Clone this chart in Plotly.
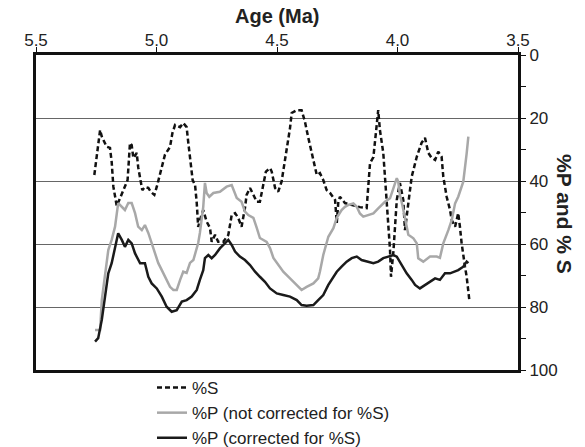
import plotly.graph_objects as go

# ---- data (age in Ma, percentage) ----
s_age = [5.258, 5.234, 5.227, 5.221, 5.207, 5.193, 5.186, 5.179, 5.165, 5.151,
         5.131, 5.120, 5.110, 5.103, 5.096, 5.082, 5.076, 5.068, 5.059, 5.048,
         5.034, 5.023, 5.009, 4.999, 4.985, 4.965, 4.944, 4.934, 4.923, 4.902,
         4.889, 4.875, 4.868, 4.857, 4.850, 4.840, 4.833, 4.827, 4.820, 4.806,
         4.792, 4.778, 4.771, 4.757, 4.744, 4.723, 4.702, 4.688, 4.674, 4.661,
         4.647, 4.633, 4.626, 4.612, 4.598, 4.584, 4.571, 4.557, 4.546, 4.529,
         4.522, 4.508, 4.495, 4.481, 4.467, 4.446, 4.439, 4.418, 4.398, 4.384,
         4.370, 4.349, 4.335, 4.322, 4.308, 4.294, 4.280, 4.259, 4.252, 4.246,
         4.239, 4.218, 4.189, 4.156, 4.128, 4.121, 4.114, 4.100, 4.093, 4.086,
         4.080, 4.073, 4.059, 4.052, 4.045, 4.038, 4.031, 4.027, 4.017, 4.003,
         3.990, 3.976, 3.969, 3.955, 3.941, 3.920, 3.900, 3.886, 3.872, 3.858,
         3.844, 3.831, 3.817, 3.810, 3.796, 3.782, 3.775, 3.761, 3.748, 3.741,
         3.734, 3.720, 3.713, 3.702]
s_val = [38.1, 23.8, 25.9, 27.0, 29.1, 29.5, 33.9, 41.8, 47.9, 45.4,
         41.9, 39.7, 27.9, 28.6, 32.7, 31.1, 35.6, 39.7, 42.9, 41.9,
         42.2, 43.5, 44.4, 41.9, 37.5, 31.7, 29.2, 24.8, 22.2, 22.9,
         21.6, 22.9, 27.9, 35.6, 39.7, 41.3, 47.0, 54.6, 52.4, 49.2,
         52.9, 54.9, 59.3, 57.1, 59.3, 59.3, 57.1, 50.8, 50.2, 51.7,
         54.5, 48.6, 44.4, 42.2, 44.4, 46.6, 46.6, 41.3, 37.0, 35.9,
         37.0, 42.2, 43.4, 40.2, 33.9, 23.2, 18.4, 17.5, 17.5, 21.2,
         26.3, 33.9, 38.1, 37.5, 39.7, 42.9, 43.8, 46.0, 53.3, 47.0,
         45.0, 47.0, 47.6, 48.3, 48.6, 40.6, 34.3, 32.4, 27.0, 20.6,
         17.5, 23.8, 31.1, 38.7, 46.0, 55.6, 61.9, 70.4, 62.4, 46.0,
         40.6, 46.0, 55.6, 47.0, 38.6, 32.3, 27.9, 26.3, 31.1, 32.7,
         33.3, 30.7, 32.3, 38.6, 45.0, 49.2, 52.4, 54.5, 50.2, 54.5,
         59.7, 67.2, 70.4, 77.8]

pu_age = [5.255, 5.234, 5.227, 5.214, 5.200, 5.186, 5.172, 5.159, 5.144, 5.131,
          5.117, 5.103, 5.089, 5.076, 5.061, 5.048, 5.034, 5.020, 5.006, 4.993,
          4.978, 4.958, 4.944, 4.930, 4.916, 4.902, 4.889, 4.875, 4.861, 4.847,
          4.827, 4.820, 4.806, 4.799, 4.792, 4.781, 4.764, 4.737, 4.709, 4.688,
          4.667, 4.647, 4.633, 4.619, 4.598, 4.584, 4.571, 4.543, 4.529, 4.515,
          4.495, 4.474, 4.446, 4.418, 4.398, 4.377, 4.349, 4.329, 4.322, 4.308,
          4.294, 4.287, 4.266, 4.252, 4.232, 4.218, 4.204, 4.183, 4.169, 4.156,
          4.142, 4.121, 4.100, 4.080, 4.066, 4.052, 4.031, 4.017, 4.003, 3.997,
          3.990, 3.980, 3.969, 3.955, 3.934, 3.920, 3.914, 3.893, 3.865, 3.837,
          3.824, 3.810, 3.789, 3.775, 3.761, 3.748, 3.727, 3.720, 3.713, 3.706]
pu_val = [87.3, 87.3, 77.8, 70.4, 61.9, 58.7, 54.5, 47.0, 48.2, 49.2,
          47.0, 47.0, 50.2, 54.5, 55.6, 54.0, 56.5, 59.7, 62.9, 66.0,
          68.3, 71.4, 73.6, 74.6, 74.6, 71.4, 68.8, 69.2, 66.0, 65.1,
          59.7, 56.5, 48.2, 40.6, 43.8, 45.0, 43.8, 43.4, 41.8, 41.3,
          45.4, 46.6, 49.7, 50.8, 51.7, 54.9, 58.1, 59.3, 61.3, 64.4,
          66.7, 68.8, 70.9, 73.0, 74.6, 73.6, 72.5, 70.9, 68.8, 63.5,
          59.3, 57.7, 55.0, 51.7, 49.2, 48.2, 47.6, 47.1, 48.2, 50.3,
          51.3, 50.8, 50.3, 48.7, 47.6, 46.6, 45.5, 42.3, 39.1, 40.2,
          44.4, 47.6, 51.8, 57.1, 58.2, 59.8, 64.5, 65.6, 64.0, 64.0,
          64.4, 59.8, 55.6, 52.4, 47.1, 45.0, 40.2, 36.5, 31.2, 25.9]

pc_age = [5.255, 5.242, 5.227, 5.214, 5.200, 5.186, 5.172, 5.159, 5.144, 5.131,
          5.117, 5.103, 5.089, 5.068, 5.048, 5.034, 5.020, 4.999, 4.978, 4.958,
          4.937, 4.916, 4.895, 4.875, 4.854, 4.833, 4.820, 4.806, 4.799, 4.785,
          4.771, 4.757, 4.737, 4.716, 4.702, 4.688, 4.674, 4.654, 4.633, 4.612,
          4.591, 4.571, 4.550, 4.529, 4.501, 4.474, 4.446, 4.418, 4.398, 4.377,
          4.349, 4.329, 4.308, 4.287, 4.273, 4.252, 4.232, 4.211, 4.190, 4.169,
          4.149, 4.121, 4.100, 4.080, 4.059, 4.038, 4.017, 4.003, 3.990, 3.976,
          3.962, 3.941, 3.927, 3.907, 3.886, 3.865, 3.844, 3.824, 3.803, 3.782,
          3.761, 3.748, 3.727, 3.713, 3.706]
pc_val = [91.0, 89.9, 84.1, 76.7, 69.3, 66.1, 60.9, 56.6, 58.7, 60.9,
          58.7, 59.8, 63.0, 66.1, 66.1, 70.4, 72.5, 74.1, 76.7, 79.9,
          81.5, 81.0, 78.3, 77.8, 76.7, 74.6, 71.4, 68.3, 64.5, 63.5,
          64.5, 63.5, 61.4, 59.8, 58.7, 60.3, 62.4, 64.0, 65.1, 66.7,
          68.8, 70.4, 72.0, 74.1, 75.7, 76.2, 76.7, 77.8, 79.4, 79.6,
          79.4, 77.8, 76.2, 73.0, 71.4, 68.8, 67.2, 65.6, 64.5, 64.0,
          65.1, 65.6, 66.1, 65.6, 64.5, 64.0, 63.5, 64.0, 65.6, 67.2,
          69.3, 71.4, 73.0, 74.1, 73.0, 72.0, 70.9, 71.4, 69.3, 69.3,
          68.8, 68.3, 67.2, 65.6, 66.1]

x_ticks = [5.5, 5.0, 4.5, 4.0, 3.5]
y_ticks = [0, 20, 40, 60, 80, 100]

FONT = "Liberation Sans, Arial, sans-serif"
TXT = "#222222"

fig = go.Figure()
fig.add_trace(go.Scatter(x=s_age, y=s_val, mode="lines", name="%S",
                         line=dict(color="#111111", width=2.5, dash="5px,3px")))
fig.add_trace(go.Scatter(x=pu_age, y=pu_val, mode="lines", name="%P (not corrected for %S)",
                         line=dict(color="#a8a8a8", width=2.5)))
fig.add_trace(go.Scatter(x=pc_age, y=pc_val, mode="lines", name="%P (corrected for %S)",
                         line=dict(color="#1a1a1a", width=2.5)))

fig.update_layout(
    width=585, height=447,
    margin=dict(l=36, r=67, t=55, b=77, autoexpand=False),
    paper_bgcolor="white", plot_bgcolor="white",
    font=dict(family=FONT, size=17, color=TXT),
    showlegend=True,
    legend=dict(xref="container", yref="container",
                x=152 / 585, y=1 - 370 / 447, xanchor="left", yanchor="top",
                bgcolor="rgba(0,0,0,0)", font=dict(size=17, color=TXT),
                tracegroupgap=0, itemwidth=30),
    xaxis=dict(range=[5.5, 3.5], side="top", tickvals=x_ticks, tickformat=".1f",
               ticks="outside", ticklen=5, tickwidth=1.2, tickcolor="#111111",
               ticklabelstandoff=-6,
               showline=True, linewidth=3, linecolor="#111111", mirror=True,
               showgrid=False, zeroline=False, automargin=False),
    yaxis=dict(range=[100, 0], side="right", tickvals=y_ticks,
               ticks="outside", ticklen=5, tickwidth=1.2, tickcolor="#111111",
               minor=dict(ticks="outside", dtick=10, tick0=0, ticklen=5,
                          tickwidth=1.2, tickcolor="#111111", showgrid=False),
               showline=True, linewidth=3, linecolor="#111111", mirror=True,
               showgrid=True, gridcolor="#666666", gridwidth=1, zeroline=False,
               automargin=False),
)

fig.add_annotation(text="<b>Age (Ma)</b>", xref="paper", yref="paper",
                   x=0.5, y=(370 - 16) / 315, xanchor="center", yanchor="middle",
                   showarrow=False, font=dict(size=20, color=TXT))
fig.add_annotation(text="<b>%P and % S</b>", xref="paper", yref="paper",
                   x=(565 - 36) / 482, y=(370 - 214) / 315, xanchor="center", yanchor="middle",
                   textangle=90, showarrow=False, font=dict(size=21, color=TXT))

fig.write_html("out.html")
